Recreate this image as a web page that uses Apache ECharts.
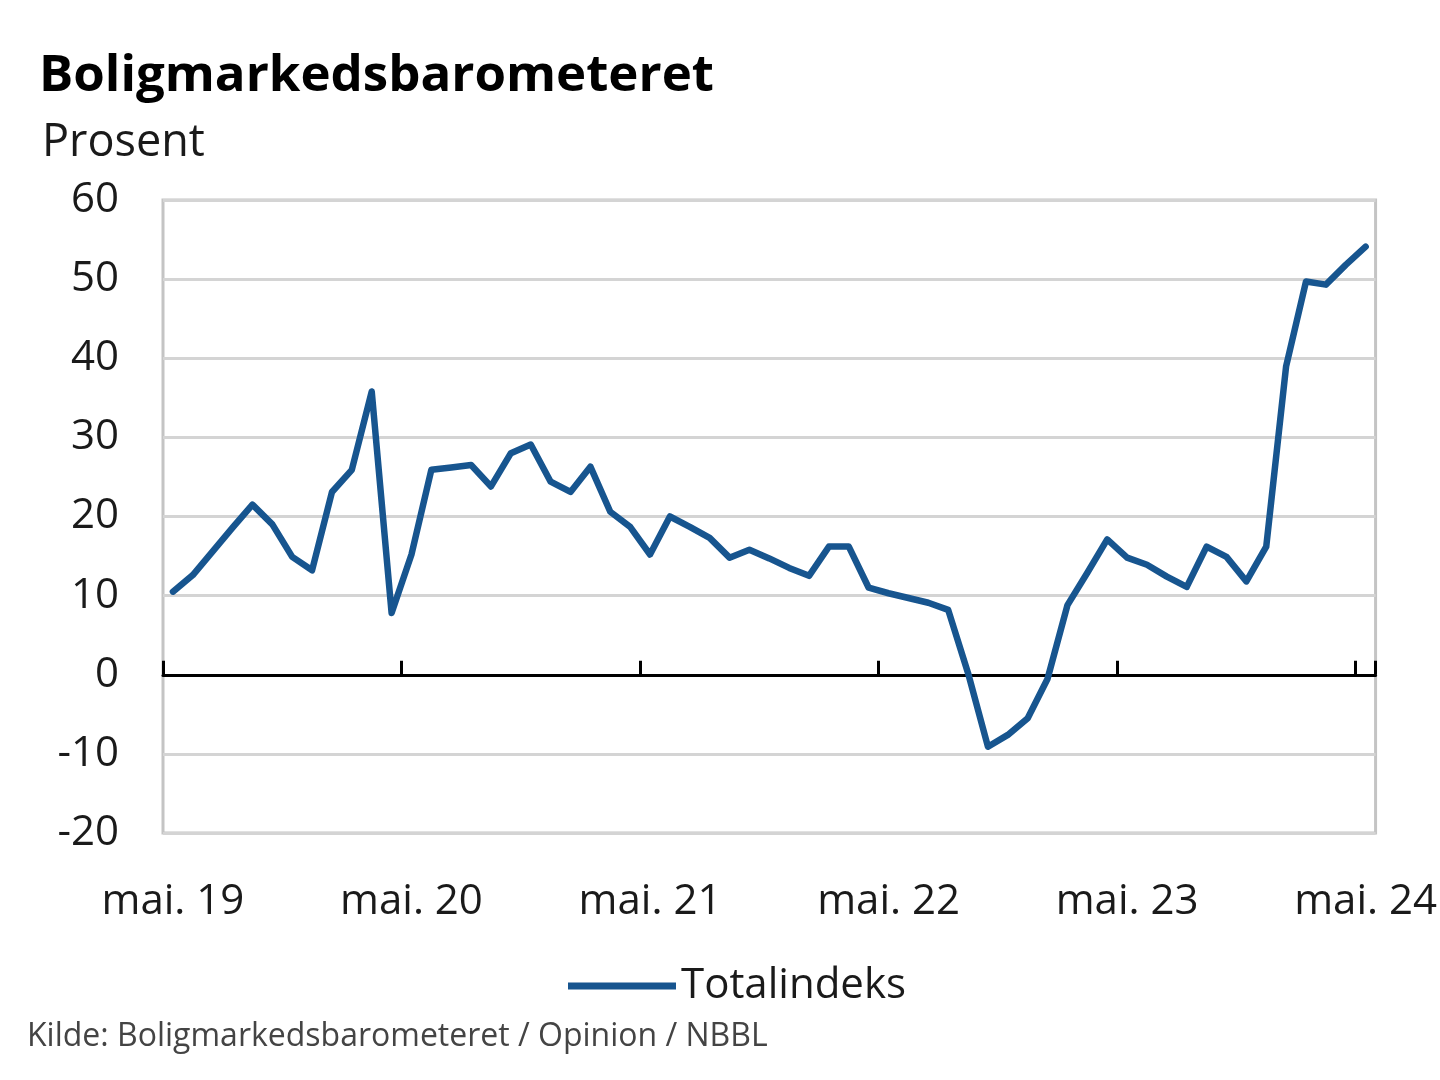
<!DOCTYPE html>
<html>
<head>
<meta charset="utf-8">
<script src="https://cdn.jsdelivr.net/npm/echarts@6/dist/echarts.min.js"></script>
<style>html,body{margin:0;padding:0;background:#fff}#c{width:1440px;height:1080px}</style>
</head>
<body>
<div id="c"></div>
<script>
const categories = [
  "mai. 19","jun. 19","jul. 19","aug. 19","sep. 19","okt. 19","nov. 19","des. 19",
  "jan. 20","feb. 20","mar. 20","apr. 20","mai. 20","jun. 20","jul. 20","aug. 20","sep. 20","okt. 20","nov. 20","des. 20",
  "jan. 21","feb. 21","mar. 21","apr. 21","mai. 21","jun. 21","jul. 21","aug. 21","sep. 21","okt. 21","nov. 21","des. 21",
  "jan. 22","feb. 22","mar. 22","apr. 22","mai. 22","jun. 22","jul. 22","aug. 22","sep. 22","okt. 22","nov. 22","des. 22",
  "jan. 23","feb. 23","mar. 23","apr. 23","mai. 23","jun. 23","jul. 23","aug. 23","sep. 23","okt. 23","nov. 23","des. 23",
  "jan. 24","feb. 24","mar. 24","apr. 24","mai. 24"
];
const totalindeks = [
  10.5, 12.6, 15.6, 18.6, 21.5, 19.0, 14.9, 13.2,
  23.1, 25.9, 35.8, 7.8, 15.2, 25.9, 26.2, 26.5, 23.8, 28.0, 29.1, 24.4, 23.1, 26.3, 20.6, 18.7,
  15.2, 20.0, 18.7, 17.3, 14.8, 15.8, 14.7, 13.5, 12.5, 16.2, 16.2, 11.0,
  10.3, 9.7, 9.1, 8.2, 0.2, -9.1, -7.6, -5.5, -0.5, 8.8, 12.9, 17.1,
  14.8, 13.9, 12.4, 11.1, 16.2, 14.9, 11.8, 16.2, 39.0, 49.7, 49.3, 51.8, 54.1
];
const yTicks = { min: -20, max: 60, interval: 10 };
const seriesName = "Totalindeks";
const titleText = "Boligmarkedsbarometeret";
const unitText = "Prosent";
const sourceText = "Kilde: Boligmarkedsbarometeret / Opinion / NBBL";

const FONT = "Open Sans";
const TXT = "#1a1a1a";
const chart = echarts.init(document.getElementById('c'), null, {renderer: 'canvas'});
chart.setOption({
  animation: false,
  backgroundColor: '#fff',
  title: [
    {text: titleText, left: 34, top: 46, textStyle: {fontFamily: FONT, fontSize: 51, fontWeight: 'bold', color: '#000'}},
    {text: unitText, left: 37, top: 116, textStyle: {fontFamily: FONT, fontSize: 45, fontWeight: 'normal', color: TXT}},
    {text: sourceText, left: 22, top: 1016, textStyle: {fontFamily: FONT, fontSize: 32, fontWeight: 'normal', color: '#444'}}
  ],
  legend: {
    data: [seriesName],
    left: 563, top: 960,
    icon: 'rect', itemWidth: 108, itemHeight: 7, itemGap: 8,
    textStyle: {fontFamily: FONT, fontSize: 42, color: TXT, padding: [0,0,0,0]}
  },
  grid: {left: 163, right: 60, top: 200, bottom: 247, show: true, borderColor: '#c4c4c4', borderWidth: 3, containLabel: false},
  xAxis: [
    {
      type: 'category', data: categories, boundaryGap: true,
      axisLine: {onZero: true, lineStyle: {color: '#000', width: 3}},
      axisTick: {show: true, inside: true, interval: 11, length: 14, lineStyle: {color: '#000', width: 3}},
      axisLabel: {show: false},
      splitLine: {show: false}
    },
    {
      type: 'category', data: categories, boundaryGap: true, position: 'bottom',
      axisLine: {show: false}, axisTick: {show: false},
      axisLabel: {interval: 11, margin: 48, fontFamily: FONT, fontSize: 42, color: TXT},
      splitLine: {show: false}
    }
  ],
  yAxis: {
    type: 'value', min: yTicks.min, max: yTicks.max, interval: yTicks.interval,
    axisLine: {show: false}, axisTick: {show: false},
    axisLabel: {margin: 44, fontFamily: FONT, fontSize: 42, color: TXT},
    splitLine: {lineStyle: {color: '#d4d4d4', width: 3}}
  },
  series: [{
    name: seriesName, type: 'line', data: totalindeks, xAxisIndex: 0,
    symbol: 'none', smooth: false,
    lineStyle: {color: '#17558f', width: 6.5, join: 'round', cap: 'round'},
    itemStyle: {color: '#17558f'}
  }]
});
</script>
</body>
</html>
